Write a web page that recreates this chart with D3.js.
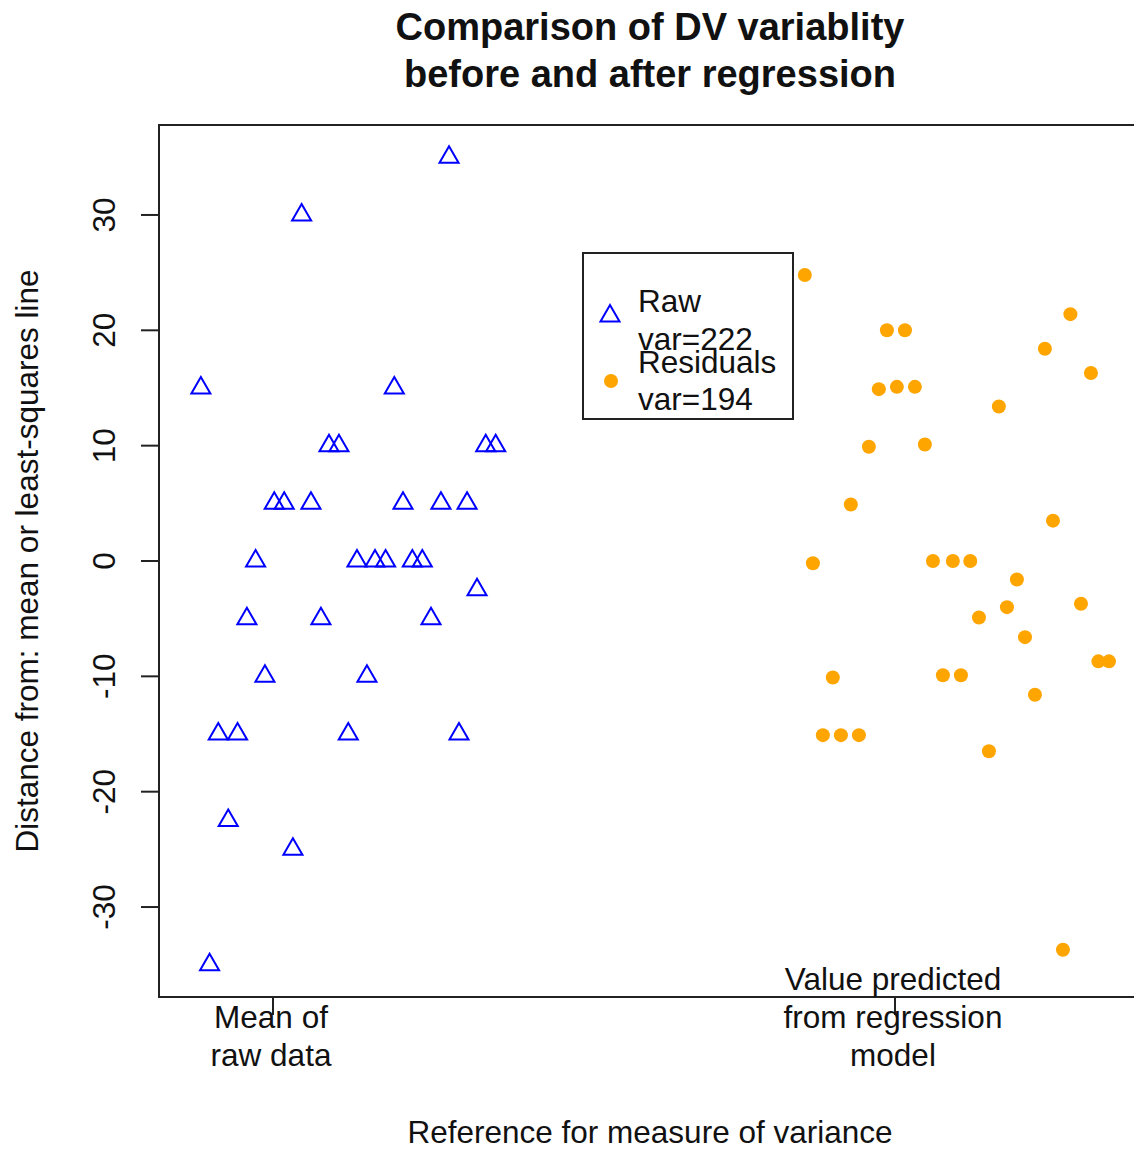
<!DOCTYPE html>
<html>
<head>
<meta charset="utf-8">
<script src="https://cdn.jsdelivr.net/npm/d3@7"></script>
<style>
  body { margin: 0; background: #fff; }
  text { font-family: "Liberation Sans", Arial, sans-serif; fill: #111; }
</style>
</head>
<body>
<div id="chart"></div>
<script>
// raw deviations from the mean (blue triangles)
const rawX = [0.884, 0.898, 0.912, 0.928, 0.943, 0.958, 0.972, 0.987, 1.002, 1.018, 1.032,
  1.046, 1.061, 1.077, 1.090, 1.106, 1.121, 1.135, 1.151, 1.164, 1.181, 1.195,
  1.209, 1.224, 1.240, 1.254, 1.270, 1.283, 1.299, 1.312, 1.328, 1.342, 1.358]
const rawY = [15, -35, -15, -22.5, -15, -5, 0, -10, 5, 5, -25,
  30, 5, -5, 10, 10, -15, 0, -10, 0, 0, 15,
  5, 0, 0, -5, 5, 35, -15, 5, -2.5, 10, 10]

// residuals from the regression line (orange dots)
const resX = [1.855, 1.868, 1.884, 1.900, 1.913, 1.929, 1.942, 1.958, 1.974, 1.987, 2.003,
  2.016, 2.032, 2.048, 2.061, 2.077, 2.093, 2.106, 2.121, 2.135, 2.151, 2.167,
  2.180, 2.196, 2.209, 2.225, 2.241, 2.254, 2.270, 2.282, 2.299, 2.315, 2.327, 2.344]
const resY = [24.8, -0.2, -15.1, -10.1, -15.1, 4.9, -15.1, 9.9, 14.9, 20.0, 15.1,
  20.0, 15.1, 10.1, 0.0, -9.9, 0.0, -9.9, 0.0, -4.9, -16.5, 13.4,
  -4.0, -1.6, -6.6, -11.6, 18.4, 3.5, -33.7, 21.4, -3.7, 16.3, -8.7, -8.7]

const yTicks = [-30, -20, -10, 0, 10, 20, 30]
const xTicks = [1, 2]
const xTickLabels = [['Mean of', 'raw data'], ['Value predicted', 'from regression', 'model']]
const legendLabels = [['Raw', 'var=222'], ['Residuals', 'var=194']]

const width = 1134
const height = 1153
const plot = { left: 159, right: 1141, top: 125, bottom: 997 }
const fs = '31.5px'

const svg = d3.select('#chart').append('svg').attr('width', width).attr('height', height)

const x = d3.scaleLinear().domain([0.8167, 2.3955]).range([plot.left, plot.right])
const y = d3.scaleLinear().domain([-37.8, 37.8]).range([plot.bottom, plot.top])

// title
svg.selectAll('text.title')
  .data(['Comparison of DV variablity', 'before and after regression'])
  .enter()
  .append('text')
  .attr('class', 'title')
  .attr('x', (plot.left + plot.right) / 2)
  .attr('y', (d, i) => 40 + i * 47)
  .attr('text-anchor', 'middle')
  .style('font-weight', 'bold')
  .style('font-size', '38px')
  .text((d) => d)

// points clipped to the plot region
svg.append('clipPath').attr('id', 'clip')
  .append('rect')
  .attr('x', plot.left).attr('y', plot.top)
  .attr('width', plot.right - plot.left).attr('height', plot.bottom - plot.top)

const g = svg.append('g').attr('clip-path', 'url(#clip)')
const tri = (r) => `M0,${-r}L${r * 0.866},${r / 2}L${-r * 0.866},${r / 2}Z`

g.selectAll('path.raw')
  .data(rawX.map((v, i) => ({ x: v, y: rawY[i] })))
  .enter()
  .append('path')
  .attr('class', 'raw')
  .attr('d', tri(11))
  .attr('transform', (d) => `translate(${x(d.x)},${y(d.y)})`)
  .attr('fill', 'none')
  .attr('stroke', '#0000ff')
  .attr('stroke-width', 2)

g.selectAll('circle.res')
  .data(resX.map((v, i) => ({ x: v, y: resY[i] })))
  .enter()
  .append('circle')
  .attr('class', 'res')
  .attr('cx', (d) => x(d.x))
  .attr('cy', (d) => y(d.y))
  .attr('r', 7)
  .attr('fill', '#ffa500')

// plot box
svg.append('rect')
  .attr('x', plot.left).attr('y', plot.top)
  .attr('width', plot.right - plot.left).attr('height', plot.bottom - plot.top)
  .attr('fill', 'none')
  .attr('stroke', '#222')
  .attr('stroke-width', 2)

// y axis
const yAxis = svg.append('g')
yAxis.selectAll('line')
  .data(yTicks)
  .enter()
  .append('line')
  .attr('x1', plot.left - 18).attr('x2', plot.left)
  .attr('y1', (d) => y(d)).attr('y2', (d) => y(d))
  .attr('stroke', '#222').attr('stroke-width', 2)
yAxis.selectAll('text')
  .data(yTicks)
  .enter()
  .append('text')
  .attr('transform', (d) => `translate(115,${y(d)}) rotate(-90)`)
  .attr('text-anchor', 'middle')
  .style('font-size', fs)
  .text((d) => d)

// x axis
const xAxis = svg.append('g')
xAxis.selectAll('line')
  .data(xTicks)
  .enter()
  .append('line')
  .attr('x1', (d) => x(d)).attr('x2', (d) => x(d))
  .attr('y1', plot.bottom).attr('y2', plot.bottom + 18)
  .attr('stroke', '#222').attr('stroke-width', 2)
xTicks.forEach((t, i) => {
  const lines = xTickLabels[i]
  xAxis.selectAll(null)
    .data(lines)
    .enter()
    .append('text')
    .attr('x', x(t) - 2)
    .attr('y', (d, j) => 1066 - (lines.length - 1 - j) * 38)
    .attr('text-anchor', 'middle')
    .style('font-size', fs)
    .text((d) => d)
})

// axis titles
svg.append('text')
  .attr('x', (plot.left + plot.right) / 2)
  .attr('y', 1143)
  .attr('text-anchor', 'middle')
  .style('font-size', fs)
  .text('Reference for measure of variance')

svg.append('text')
  .attr('transform', `translate(38,${(plot.top + plot.bottom) / 2}) rotate(-90)`)
  .attr('text-anchor', 'middle')
  .style('font-size', fs)
  .text('Distance from: mean or least-squares line')

// legend
const legend = svg.append('g')
legend.append('rect')
  .attr('x', 583).attr('y', 253).attr('width', 210).attr('height', 166)
  .attr('fill', '#fff').attr('stroke', '#222').attr('stroke-width', 2)
legend.append('path')
  .attr('d', tri(11))
  .attr('transform', 'translate(610,316)')
  .attr('fill', 'none').attr('stroke', '#0000ff').attr('stroke-width', 2)
legend.append('circle')
  .attr('cx', 611).attr('cy', 381).attr('r', 7).attr('fill', '#ffa500')
const legendBase = [[312, 350], [373, 410]]
legendLabels.forEach((lines, i) => {
  legend.selectAll(null)
    .data(lines)
    .enter()
    .append('text')
    .attr('x', 638)
    .attr('y', (d, j) => legendBase[i][j])
    .style('font-size', fs)
    .text((d) => d)
})
</script>
</body>
</html>
